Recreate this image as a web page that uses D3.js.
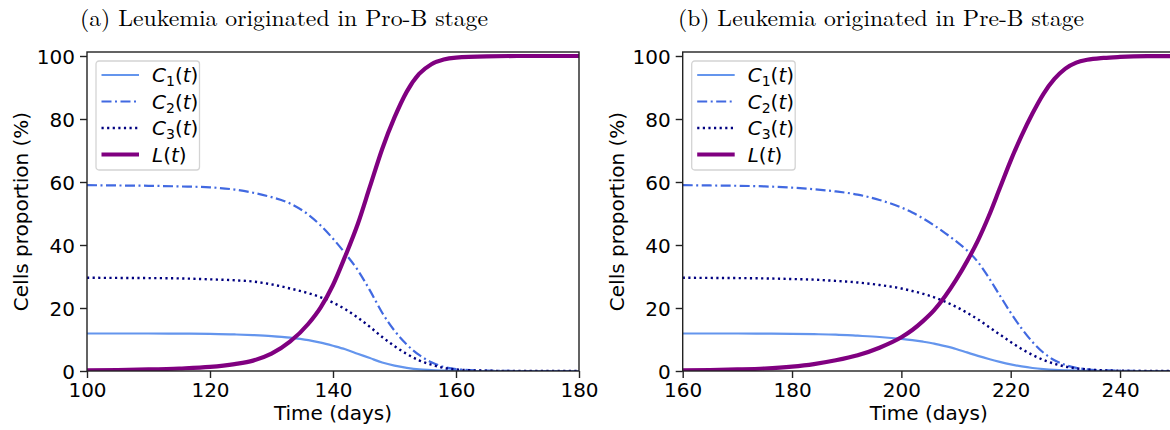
<!DOCTYPE html>
<html>
<head>
<meta charset="utf-8">
<script src="https://cdn.jsdelivr.net/npm/d3@7"></script>
<style>
  body { margin: 0; background: #fff; }
  svg { display: block; }
  .tick text { font-family: "DejaVu Sans", sans-serif; font-size: 20px; fill: #000; }
  .tick line { stroke: #222; stroke-width: 1.4; }
</style>
</head>
<body>
<svg width="1170" height="430"></svg>
<script>
// y ticks shared by both panels
var yTicks = [0, 20, 40, 60, 80, 100]

// (a) Pro-B origin
var timesA = [100, 105, 110, 115, 120, 124, 127, 130, 133, 136, 138, 140, 142, 144, 146, 148, 150, 152, 154, 156, 158, 160, 165, 170, 180]
var c1A = [11.9, 11.9, 11.9, 11.85, 11.8, 11.6, 11.4, 11.1, 10.6, 9.8, 9.0, 8.0, 6.9, 5.5, 4.1, 2.7, 1.7, 1.0, 0.5, 0.3, 0.15, 0.1, 0, 0, 0]
var c2A = [59, 58.9, 58.8, 58.6, 58.3, 57.6, 56.6, 55.2, 53.2, 49.6, 46.2, 42.0, 37.3, 32.1, 25.6, 18.5, 12.8, 8.4, 5.1, 2.8, 1.3, 0.6, 0.1, 0, 0]
var c3A = [29.6, 29.55, 29.5, 29.4, 29.1, 28.8, 28.4, 27.5, 26.2, 24.7, 23.4, 21.7, 19.6, 17.0, 14.0, 10.8, 7.9, 5.4, 3.4, 2.0, 1.0, 0.5, 0.1, 0, 0]
var lA = [0.2, 0.3, 0.5, 0.8, 1.3, 2.2, 3.3, 5.5, 9.3, 15, 20.2, 27.3, 36.5, 46.5, 58.5, 70.5, 80.5, 88.7, 94.3, 97.4, 98.9, 99.5, 99.9, 100, 100]
var xTicksA = [100, 120, 140, 160, 180]

// (b) Pre-B origin
var timesB = [160, 165, 170, 175, 180, 184, 188, 192, 196, 200, 202, 204, 206, 208, 210, 212, 214, 216, 218, 220, 222, 224, 226, 228, 230, 232, 234, 237, 240, 245, 250]
var c1B = [11.9, 11.9, 11.9, 11.85, 11.8, 11.7, 11.55, 11.2, 10.8, 10.2, 9.8, 9.3, 8.7, 7.9, 7.0, 5.9, 4.8, 3.8, 2.9, 2.1, 1.45, 0.95, 0.6, 0.35, 0.2, 0.1, 0.06, 0.03, 0, 0, 0]
var c2B = [59, 58.9, 58.8, 58.6, 58.2, 57.7, 57.0, 56.0, 54.3, 51.9, 50.3, 48.4, 46.2, 43.8, 41.2, 38.3, 34.6, 29.6, 24.0, 18.5, 13.5, 9.2, 5.8, 3.4, 1.9, 1.0, 0.5, 0.2, 0.1, 0, 0]
var c3B = [29.6, 29.55, 29.5, 29.4, 29.2, 29.0, 28.6, 28.1, 27.3, 26.2, 25.4, 24.5, 23.4, 22.0, 20.4, 18.5, 16.4, 14.0, 11.6, 9.2, 7.0, 5.1, 3.5, 2.3, 1.4, 0.85, 0.5, 0.2, 0.1, 0, 0]
var lB = [0.2, 0.3, 0.5, 0.8, 1.4, 2.2, 3.4, 5.0, 7.4, 10.7, 13.0, 15.9, 19.3, 23.7, 28.9, 34.8, 41.4, 49.2, 58.0, 66.8, 74.7, 81.8, 88.0, 92.7, 96.0, 97.9, 98.8, 99.4, 99.7, 99.95, 100]
var xTicksB = [160, 180, 200, 220, 240]

var seriesNames = ["C1", "C2", "C3", "L"]
var seriesSub = ["1", "2", "3", null]
var colors = ["#6495ED", "#4169E1", "#000080", "#800080"]
var dashes = [null, "10,3.5,2,3.5", "2.2,3.4", null]
var widths = [2.2, 2.2, 2.4, 4.2]

var svg = d3.select("svg")
var plotTop = 52, plotBottom = 371

var panels = [
  {x0: 87, x1: 579, domain: [100, 180], ticks: xTicksA, times: timesA, ys: [c1A, c2A, c3A, lA],
   title: "(a) Leukemia originated in Pro-B stage", titleX: 80, titleW: 408},
  {x0: 682.7, x1: 1174.7, domain: [160, 250], ticks: xTicksB, times: timesB, ys: [c1B, c2B, c3B, lB],
   title: "(b) Leukemia originated in Pre-B stage", titleX: 678, titleW: 406}
]

panels.forEach(function(p, pi) {
  var x = d3.scaleLinear().domain(p.domain).range([p.x0, p.x1])
  var y = d3.scaleLinear().domain([0, 100]).range([plotBottom, 56])

  var clipId = "clip" + pi
  svg.append("clipPath").attr("id", clipId)
    .append("rect").attr("x", p.x0).attr("y", plotTop).attr("width", p.x1 - p.x0).attr("height", plotBottom - plotTop)

  var g = svg.append("g")

  // curves
  var line = d3.line()
    .x(function(d) { return x(d[0]) })
    .y(function(d) { return y(d[1]) })
    .curve(d3.curveMonotoneX)

  p.ys.forEach(function(vals, i) {
    var pts = p.times.map(function(t, k) { return [t, vals[k]] })
    g.append("path")
      .attr("clip-path", "url(#" + clipId + ")")
      .attr("d", line(pts))
      .attr("fill", "none")
      .attr("stroke", colors[i])
      .attr("stroke-width", widths[i])
      .attr("stroke-dasharray", dashes[i])
  })

  // spines
  g.append("rect")
    .attr("x", p.x0).attr("y", plotTop)
    .attr("width", p.x1 - p.x0).attr("height", plotBottom - plotTop)
    .attr("fill", "none").attr("stroke", "#222").attr("stroke-width", 1.4)

  // axes
  var xa = g.append("g").attr("transform", "translate(0," + plotBottom + ")")
    .call(d3.axisBottom(x).tickValues(p.ticks).tickFormat(d3.format("d")).tickSize(7).tickPadding(5))
  xa.select(".domain").remove()

  var ya = g.append("g").attr("transform", "translate(" + p.x0 + ",0)")
    .call(d3.axisLeft(y).tickValues(yTicks).tickFormat(d3.format("d")).tickSize(7).tickPadding(5))
  ya.select(".domain").remove()
  ya.selectAll(".tick text").attr("dy", "0.36em")

  g.append("text")
    .attr("x", (p.x0 + p.x1) / 2).attr("y", 420)
    .attr("text-anchor", "middle")
    .style("font-family", "DejaVu Sans, sans-serif").style("font-size", "20px")
    .text("Time (days)")

  g.append("text")
    .attr("transform", "translate(" + (p.x0 - 59) + "," + ((plotTop + plotBottom) / 2) + ") rotate(-90)")
    .attr("text-anchor", "middle")
    .style("font-family", "DejaVu Sans, sans-serif").style("font-size", "20px")
    .text("Cells proportion (%)")

  // title
  g.append("text")
    .attr("x", p.titleX).attr("y", 26)
    .attr("textLength", p.titleW).attr("lengthAdjust", "spacingAndGlyphs")
    .style("font-family", "'Latin Modern Roman', 'CMU Serif', 'Liberation Serif', serif")
    .style("font-size", "23px")
    .text(p.title)

  // legend
  var lg = g.append("g").attr("transform", "translate(" + (p.x0 + 9) + ",61)")
  lg.append("rect")
    .attr("width", 103.5).attr("height", 109)
    .attr("rx", 3)
    .attr("fill", "#fff").attr("fill-opacity", 0.8)
    .attr("stroke", "#d4d4d4").attr("stroke-width", 1.3)

  seriesNames.forEach(function(name, i) {
    var cy = 14 + i * 26.5
    lg.append("line")
      .attr("x1", 5.5).attr("x2", 43).attr("y1", cy).attr("y2", cy)
      .attr("stroke", colors[i]).attr("stroke-width", widths[i])
      .attr("stroke-dasharray", dashes[i])
    var t = lg.append("text")
      .attr("x", 56).attr("y", cy + 7)
      .style("font-family", "DejaVu Sans, sans-serif").style("font-size", "20px")
    if (seriesSub[i]) {
      t.append("tspan").style("font-style", "italic").text("C")
      t.append("tspan").attr("dy", 4).style("font-size", "14px").text(seriesSub[i])
      t.append("tspan").attr("dy", -4).text("(")
    } else {
      t.append("tspan").style("font-style", "italic").text("L")
      t.append("tspan").text("(")
    }
    t.append("tspan").style("font-style", "italic").text("t")
    t.append("tspan").text(")")
  })
})
</script>
</body>
</html>
